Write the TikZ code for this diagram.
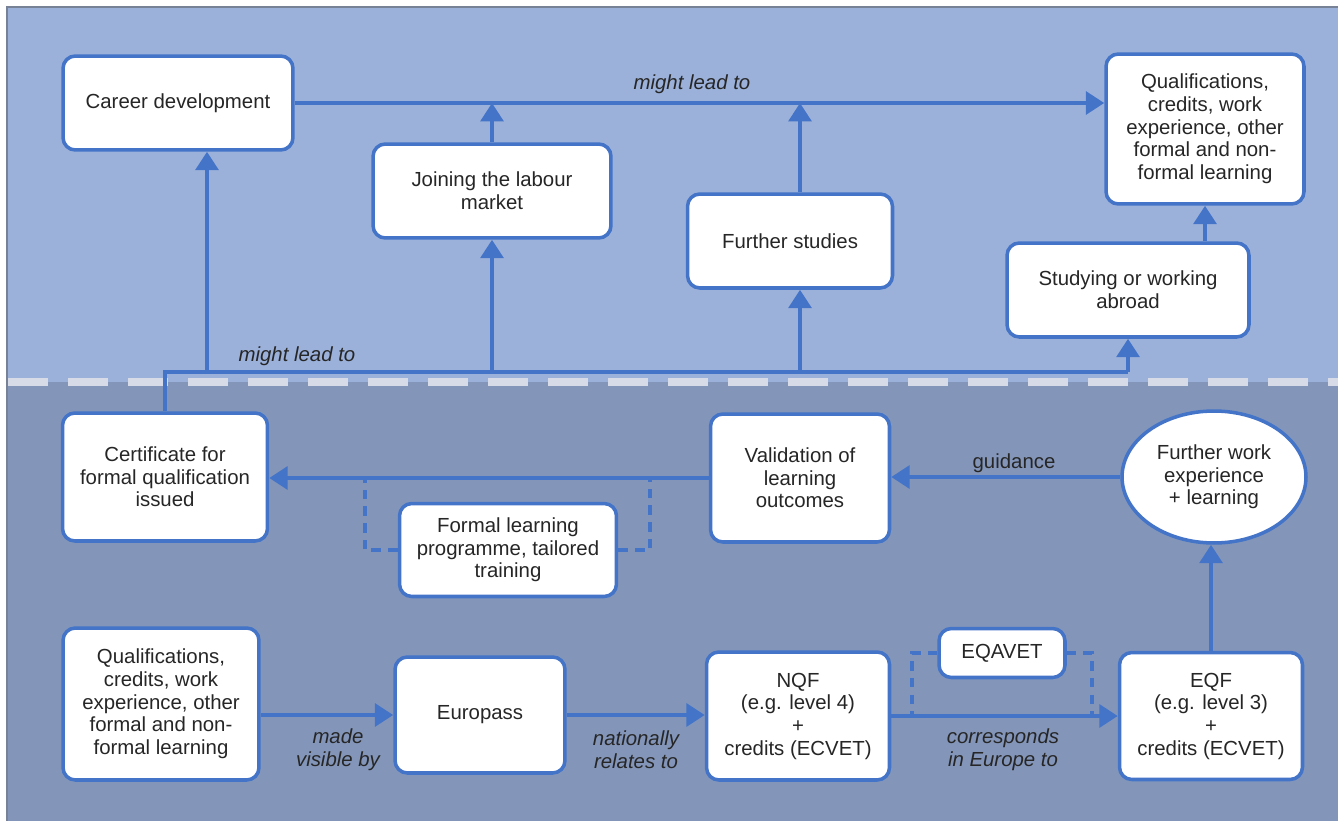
\documentclass[tikz,border=0pt]{standalone}
\usepackage{fontspec}
\setmainfont{Liberation Sans}
\usetikzlibrary{arrows.meta,shapes.geometric}
\definecolor{topbg}{RGB}{155,177,218}
\definecolor{botbg}{RGB}{131,150,186}
\definecolor{linkblue}{RGB}{68,116,200}
\definecolor{sepgray}{RGB}{214,219,231}
\definecolor{framegray}{RGB}{120,130,150}

\begin{document}
\begin{tikzpicture}[x=0.02cm, y=-0.02cm,
    font=\fontsize{11.6}{12.9}\selectfont,
    box/.style={draw=linkblue, line width=2pt, fill=white, rounded corners=7pt,
        align=center, inner sep=2pt, text=black!85},
    link/.style={linkblue, line width=2.2pt},
    arr/.style={link, -{Triangle[width=13pt,length=10.5pt]}},
    dashlink/.style={linkblue, line width=1.8pt, dash pattern=on 5.5pt off 4pt},
    lbl/.style={align=center, text=black!85}]
    \useasboundingbox (0,0) rectangle (1338,821);

    % Background
    \fill[white] (0,0) rectangle (1338,821);
    \fill[topbg] (7,7) rectangle (1338,382);
    \fill[botbg] (7,382) rectangle (1338,821);
    \draw[sepgray, line width=4.5pt, dash pattern=on 0.8cm off 0.4cm] (8,382) -- (1338,382);
    \draw[framegray, line width=1.1pt] (7,821) -- (7,7) -- (1338,7);

    % Upper boxes
    \node[box, minimum width=4.6cm, minimum height=1.88cm] (career) at (178,103) {Career development};
    \node[box, minimum width=4.76cm, minimum height=1.88cm] (joining) at (492,191) {Joining the labour\\market};
    \node[box, minimum width=4.1cm, minimum height=1.88cm] (further) at (790,241) {Further studies};
    \node[box, minimum width=3.96cm, minimum height=3cm] (qualtop) at (1205,129)
        {Qualifications,\\credits, work\\experience, other\\formal and non-\\formal learning};
    \node[box, minimum width=4.84cm, minimum height=1.88cm] (abroad) at (1128,290) {Studying or working\\abroad};

    % Lower boxes
    \node[box, minimum width=4.1cm, minimum height=2.56cm] (cert) at (165,477)
        {Certificate for\\formal qualification\\issued};
    \node[box, minimum width=4.34cm, minimum height=1.86cm] (formal) at (508,550)
        {Formal learning\\programme, tailored\\training};
    \node[box, minimum width=3.58cm, minimum height=2.56cm] (valid) at (800,478)
        {Validation of\\learning\\outcomes};
    \node[box, ellipse, inner sep=0pt, minimum width=3.68cm, minimum height=2.64cm] (work) at (1214,477)
        {Further work\\experience\\+ learning};
    \node[box, minimum width=3.92cm, minimum height=3.04cm] (qualbot) at (161,704)
        {Qualifications,\\credits, work\\experience, other\\formal and non-\\formal learning};
    \node[box, minimum width=3.4cm, minimum height=2.32cm] (europass) at (480,715) {Europass};
    \node[box, minimum width=3.66cm, minimum height=2.56cm] (nqf) at (798,716)
        {NQF\\(e.g. level 4)\\+\\credits (ECVET)};
    \node[box, minimum width=2.52cm, minimum height=0.98cm] (eqavet) at (1002,653) {EQAVET};
    \node[box, minimum width=3.66cm, minimum height=2.54cm] (eqf) at (1211,716)
        {EQF\\(e.g. level 3)\\+\\credits (ECVET)};

    % Helper points
    \coordinate (bus) at (0,372);
    \coordinate (up) at (207,372);
    \coordinate (fl) at (365,478);
    \coordinate (fr) at (650,478);
    \coordinate (el) at (912,716);
    \coordinate (er) at (1092,716);

    % Upper links
    \draw[arr] (career.east) -- (career.east -| qualtop.west);
    \draw[arr] (joining.north) -- (joining.north |- career.east);
    \draw[arr] ([xshift=0.2cm]further.north) -- ([xshift=0.2cm]further.north |- career.east);
    \draw[arr] (qualtop.south |- abroad.north) -- (qualtop.south);
    \node[lbl, font=\fontsize{11.6}{12.9}\selectfont\itshape] (lead1) at (692,84) {might lead to};

    % Certificate leads up
    \draw[link] (cert.north) |- (abroad.south |- bus);
    \draw[arr] (abroad.south |- bus) -- (abroad.south);
    \draw[arr] (up) -- (up |- career.south);
    \draw[arr] (joining.south |- bus) -- (joining.south);
    \draw[arr] ([xshift=0.2cm]further.south |- bus) -- ([xshift=0.2cm]further.south);
    \node[lbl, font=\fontsize{11.6}{12.9}\selectfont\itshape] (lead2) at (297,356) {might lead to};

    % Middle row
    \draw[arr] (valid.west) -- (valid.west -| cert.east);
    \draw[dashlink] (formal.west) -| (fl);
    \draw[dashlink] (formal.east) -| (fr);
    \draw[arr] (work.west) -- (work.west -| valid.east);
    \node[lbl] (guide) at (1014,463) {guidance};
    \draw[arr] (eqf.north) -- (eqf.north |- work.south);

    % Bottom row
    \draw[arr] (europass.west -| qualbot.east) -- (europass.west);
    \draw[arr] (europass.east) -- (europass.east -| nqf.west);
    \draw[arr] (nqf.east) -- (nqf.east -| eqf.west);
    \draw[dashlink] (eqavet.west) -| (el);
    \draw[dashlink] (eqavet.east) -| (er);
    \node[lbl, font=\fontsize{11.6}{12.9}\selectfont\itshape] (visible) at (338,750) {made\\visible by};
    \node[lbl, font=\fontsize{11.6}{12.9}\selectfont\itshape] (nation) at (636,750) {nationally\\relates to};
    \node[lbl, font=\fontsize{11.6}{12.9}\selectfont\itshape] (europe) at (1003,750) {corresponds\\in Europe to};
\end{tikzpicture}
\end{document}
